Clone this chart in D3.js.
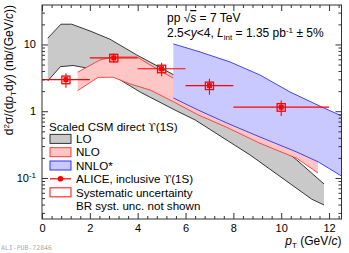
<!DOCTYPE html>
<meta charset="utf-8">
<style>
body { margin: 0; background: #fff; }
svg { display: block; font-family: "Liberation Sans", Arial, Helvetica, sans-serif; }
.axis text { font-size: 11px; fill: #000; font-family: "Liberation Sans", Arial, sans-serif; }
.axis line { stroke: #333; }
.leg { font-size: 11.6px; }
</style>
<body>
<svg width="349" height="253"></svg>
<script src="https://d3js.org/d3.v7.min.js"></script>
<script>

// ALICE inclusive Y(1S) points
var aliceX    = [1, 3, 5, 7, 10];
var aliceXlo  = [0, 2, 4, 6, 8];
var aliceXhi  = [2, 4, 6, 8, 12];
var aliceY    = [2.97, 6.3, 4.33, 2.42, 1.15];
var aliceStat = [0.72, 1.0, 1.0, 0.65, 0.3];
var aliceSyst = [0.39, 0.82, 0.56, 0.31, 0.15];

// CSM LO band
var loUpPt  = [0.24, 0.79, 1.24, 2.01, 2.84, 3.96, 5.0, 6.6, 8.7, 10.65, 11.79];
var loUpVal = [12.4, 20.1, 20.1, 15.9, 12.0, 6.97, 4.4, 2.15, 0.69, 0.186, 0.0813];
var loLoPt  = [0.24, 0.77, 1.30, 2.70, 4.10, 5.56, 6.40, 8.70, 11.28, 11.79];
var loLoVal = [2.84, 4.65, 4.84, 3.92, 1.94, 1.04, 0.74, 0.221, 0.048, 0.0394];

// CSM NLO band
var nloUpPt  = [1.49, 2.42, 2.97, 3.97, 4.52, 5.49, 7.44, 9.53, 11.54];
var nloUpVal = [3.84, 5.86, 6.5, 6.5, 4.93, 3.12, 1.48, 0.622, 0.262];
var nloLoPt  = [1.49, 2.34, 2.97, 3.68, 4.52, 5.49, 6.53, 7.72, 9.11, 10.65, 11.54];
var nloLoVal = [2.03, 3.21, 3.23, 2.56, 2.08, 1.39, 0.88, 0.575, 0.331, 0.197, 0.119];

// CSM NNLO* band
var nnloUpPt  = [5.49, 6.61, 7.86, 9.11, 10.37, 11.69, 12.52];
var nnloUpVal = [10.2, 7.72, 5.47, 3.49, 1.94, 1.16, 0.85];
var nnloLoPt  = [5.49, 6.53, 7.72, 9.11, 10.65, 11.55, 12.52];
var nnloLoVal = [1.58, 1.04, 0.667, 0.411, 0.245, 0.174, 0.107];

var xMajor = [0, 2, 4, 6, 8, 10, 12];
var yMajor = [0.1, 1, 10];
var yLabels = ["10^-1", "1", "10"];

var mLeft = 42, mRight = 341.5, mTop = 5, mBottom = 219;

var x = d3.scaleLinear().domain([0, 12.52]).range([mLeft, mRight]);
var y = d3.scaleLog().domain([0.0243, 39]).range([mBottom, mTop]);

var xMinor = d3.range(0, 12.5, 0.4).filter(function(v) {
  return Math.abs(v / 2 - Math.round(v / 2)) > 0.01;
});
var yMinor = [];
[0.01, 0.1, 1, 10].forEach(function(dec) {
  for (var k = 2; k <= 9; k++) {
    var v = dec * k;
    if (v > 0.0243 && v < 39) yMinor.push(v);
  }
});

var svg = d3.select("svg");

svg.append("clipPath").attr("id", "clip")
  .append("rect")
  .attr("x", mLeft).attr("y", mTop)
  .attr("width", mRight - mLeft).attr("height", mBottom - mTop);

var line = d3.line()
  .x(function(d) { return x(d[0]); })
  .y(function(d) { return y(d[1]); });

function pts(p, v) { return p.map(function(d, i) { return [d, v[i]]; }); }

function drawBand(upP, upV, loP, loV, fill, stroke) {
  var up = pts(upP, upV), lo = pts(loP, loV);
  var g = svg.append("g").attr("clip-path", "url(#clip)");
  g.append("path")
    .attr("d", line(up.concat(lo.slice().reverse())) + "Z")
    .attr("fill", fill);
  [up, lo].forEach(function(d) {
    g.append("path").attr("d", line(d))
      .attr("fill", "none").attr("stroke", stroke).attr("stroke-width", 0.9);
  });
}

drawBand(loUpPt, loUpVal, loLoPt, loLoVal, "#c9c9c9", "#222");
drawBand(nloUpPt, nloUpVal, nloLoPt, nloLoVal, "#ffc6c6", "#ff3838");
drawBand(nnloUpPt, nnloUpVal, nnloLoPt, nnloLoVal, "#c9c9ff", "#3030ff");

// data points
var gd = svg.append("g").attr("clip-path", "url(#clip)");
aliceX.forEach(function(xv, i) {
  var yv = aliceY[i];
  gd.append("line")
    .attr("x1", x(aliceXlo[i])).attr("x2", x(aliceXhi[i]))
    .attr("y1", y(yv)).attr("y2", y(yv))
    .attr("stroke", "#f00").attr("stroke-width", 1.1);
  gd.append("line")
    .attr("x1", x(xv)).attr("x2", x(xv))
    .attr("y1", y(yv + aliceStat[i])).attr("y2", y(yv - aliceStat[i]))
    .attr("stroke", "#f00").attr("stroke-width", 1.1);
  gd.append("rect")
    .attr("x", x(xv - 0.17)).attr("width", x(xv + 0.17) - x(xv - 0.17))
    .attr("y", y(yv + aliceSyst[i]))
    .attr("height", y(yv - aliceSyst[i]) - y(yv + aliceSyst[i]))
    .attr("fill", "none").attr("stroke", "#f00").attr("stroke-width", 1.3);
  gd.append("rect")
    .attr("x", x(xv) - 2.5).attr("y", y(yv) - 2.5)
    .attr("width", 5).attr("height", 5)
    .attr("fill", "#f00");
});

// axes
function styleAxis(g) { g.attr("class", "axis"); g.select(".domain").remove(); }

svg.append("g").attr("transform", "translate(0," + mBottom + ")")
  .call(d3.axisBottom(x).tickValues(xMajor).tickSize(-6).tickPadding(5).tickFormat(d3.format("d")))
  .call(styleAxis);
svg.append("g").attr("transform", "translate(0," + mBottom + ")")
  .call(d3.axisBottom(x).tickValues(xMinor).tickSize(-3).tickFormat(""))
  .call(styleAxis);
svg.append("g").attr("transform", "translate(0," + mTop + ")")
  .call(d3.axisTop(x).tickValues(xMajor).tickSize(-6).tickFormat(""))
  .call(styleAxis);
svg.append("g").attr("transform", "translate(0," + mTop + ")")
  .call(d3.axisTop(x).tickValues(xMinor).tickSize(-3).tickFormat(""))
  .call(styleAxis);

var yAx = svg.append("g").attr("transform", "translate(" + mLeft + ",0)")
  .call(d3.axisLeft(y).tickValues(yMajor).tickSize(-6).tickPadding(6).tickFormat(function(d, i) { return yLabels[i]; }))
  .call(styleAxis);
yAx.selectAll(".tick text").each(function(d, i) {
  var t = d3.select(this), s = yLabels[i];
  if (s.indexOf("^") > 0) {
    var parts = s.split("^");
    t.text(parts[0]);
    t.append("tspan").attr("dy", "-0.45em").style("font-size", "8px").text(parts[1]);
  }
});
svg.append("g").attr("transform", "translate(" + mLeft + ",0)")
  .call(d3.axisLeft(y).tickValues(yMinor).tickSize(-3).tickFormat(""))
  .call(styleAxis);
svg.append("g").attr("transform", "translate(" + mRight + ",0)")
  .call(d3.axisRight(y).tickValues(yMajor).tickSize(-6).tickFormat(""))
  .call(styleAxis);
svg.append("g").attr("transform", "translate(" + mRight + ",0)")
  .call(d3.axisRight(y).tickValues(yMinor).tickSize(-3).tickFormat(""))
  .call(styleAxis);

svg.append("rect")
  .attr("x", mLeft).attr("y", mTop)
  .attr("width", mRight - mLeft).attr("height", mBottom - mTop)
  .attr("fill", "none").attr("stroke", "#333").attr("stroke-width", 1);

// axis titles
var xt = svg.append("text").attr("x", mRight).attr("y", 245)
  .attr("text-anchor", "end").style("font-size", "12px");
xt.append("tspan").style("font-style", "italic").text("p");
xt.append("tspan").attr("dy", "3").style("font-size", "8px").text("T");
xt.append("tspan").attr("dy", "-3").text(" (GeV/");
xt.append("tspan").style("font-style", "italic").text("c");
xt.append("tspan").text(")");

var yt = svg.append("text")
  .attr("transform", "translate(13,5) rotate(-90)")
  .attr("text-anchor", "end").style("font-size", "12px");
yt.append("tspan").text("d");
yt.append("tspan").attr("dy", "-4").style("font-size", "8px").text("2");
yt.append("tspan").attr("dy", "4").text("\u03c3/(d");
yt.append("tspan").style("font-style", "italic").text("p");
yt.append("tspan").attr("dy", "3").style("font-size", "8px").text("T");
yt.append("tspan").attr("dy", "-3").text("d");
yt.append("tspan").style("font-style", "italic").text("y");
yt.append("tspan").text(") (nb/(GeV/");
yt.append("tspan").style("font-style", "italic").text("c");
yt.append("tspan").text("))");

// header texts
var t1 = svg.append("text").attr("x", 167).attr("y", 22).style("font-size", "12px");
t1.append("tspan").text("pp \u221a");
t1.append("tspan").style("font-style", "italic").style("text-decoration", "overline").text("s");
t1.append("tspan").text(" = 7 TeV");

var t2 = svg.append("text").attr("x", 167).attr("y", 37).style("font-size", "12px");
t2.append("tspan").text("2.5<");
t2.append("tspan").style("font-style", "italic").text("y");
t2.append("tspan").text("<4, ");
t2.append("tspan").style("font-style", "italic").text("L");
t2.append("tspan").attr("dy", "3").style("font-size", "8px").text("int");
t2.append("tspan").attr("dy", "-3").text(" = 1.35 pb");
t2.append("tspan").attr("dy", "-4").style("font-size", "8px").text("-1");
t2.append("tspan").attr("dy", "4").text(" \u00b1 5%");

// legend
var leg = svg.append("g").attr("class", "leg");
var lt = leg.append("text").attr("x", 49).attr("y", 130.5);
lt.append("tspan").text("Scaled CSM direct ");
lt.append("tspan").style("font-family", "DejaVu Serif, serif").style("font-size", "11px").text("\u03d2");
lt.append("tspan").text("(1S)");

var rowY = [138.9, 152.2, 165.5, 178.8, 192.3, 205.7];
var boxes = [["#c9c9c9", "#333", "LO"], ["#ffc6c6", "#ff3838", "NLO"], ["#c9c9ff", "#3030ff", "NNLO*"]];
boxes.forEach(function(b, i) {
  leg.append("rect").attr("x", 50).attr("y", rowY[i] - 4.5)
    .attr("width", 21).attr("height", 9)
    .attr("fill", b[0]).attr("stroke", b[1]).attr("stroke-width", 1);
  leg.append("text").attr("x", 76).attr("y", rowY[i] + 4.2).text(b[2]);
});
leg.append("line").attr("x1", 50).attr("x2", 71)
  .attr("y1", rowY[3]).attr("y2", rowY[3])
  .attr("stroke", "#f00").attr("stroke-width", 1.2);
leg.append("circle").attr("cx", 60.5).attr("cy", rowY[3]).attr("r", 2.8).attr("fill", "#f00");
var la = leg.append("text").attr("x", 76).attr("y", rowY[3] + 4.2);
la.append("tspan").text("ALICE, inclusive ");
la.append("tspan").style("font-family", "DejaVu Serif, serif").style("font-size", "11px").text("\u03d2");
la.append("tspan").text("(1S)");
leg.append("rect").attr("x", 50).attr("y", rowY[4] - 4.5)
  .attr("width", 21).attr("height", 9)
  .attr("fill", "#fff").attr("stroke", "#f33").attr("stroke-width", 1.2);
leg.append("text").attr("x", 76).attr("y", rowY[4] + 4.2).text("Systematic uncertainty");
leg.append("text").attr("x", 76).attr("y", rowY[5] + 4.2).text("BR syst. unc. not shown");

svg.append("text").attr("x", 1).attr("y", 250)
  .style("font-family", "DejaVu Sans Mono, monospace").style("font-size", "6.5px")
  .attr("fill", "#aaa").text("ALI-PUB-72846");

</script>
</body>
